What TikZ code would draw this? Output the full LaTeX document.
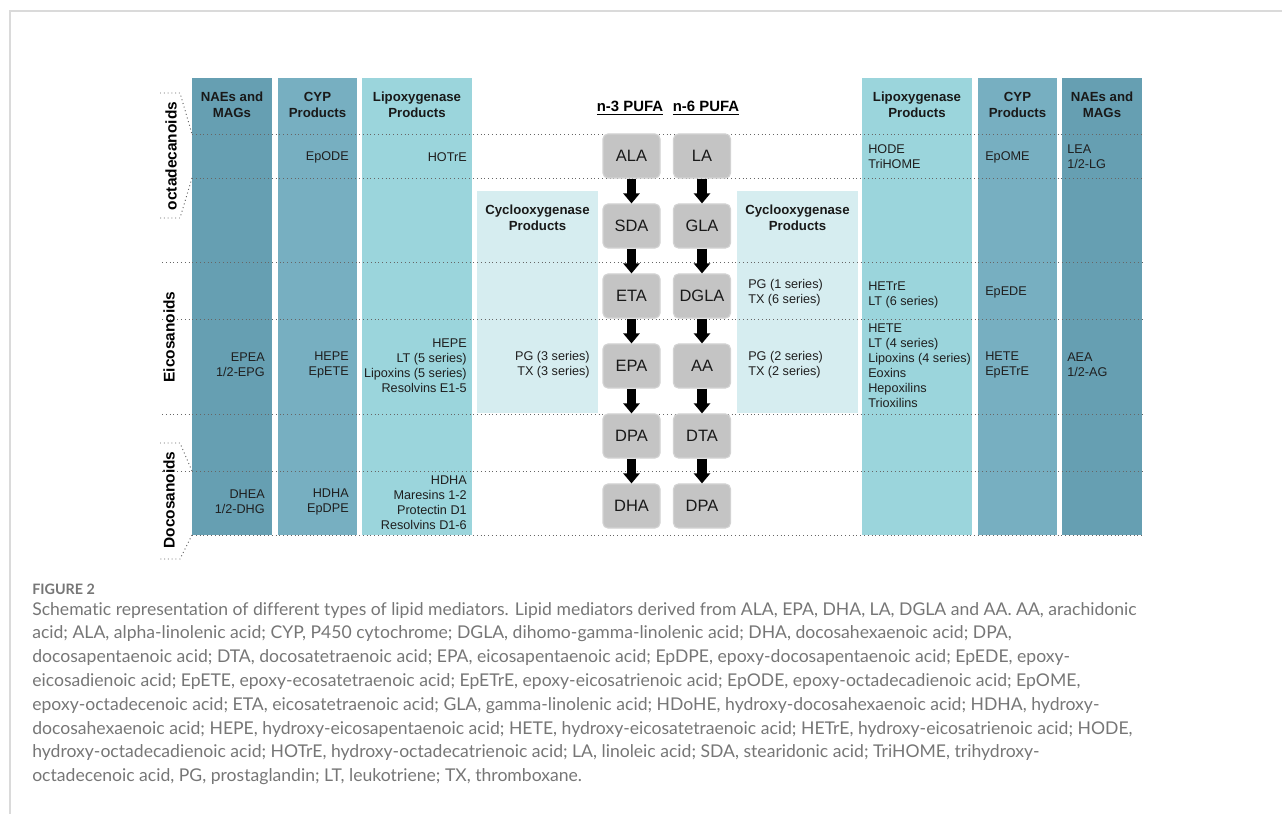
\documentclass[tikz,border=0pt]{standalone}
\usepackage{fontspec}
\setmainfont{Liberation Sans}
\newfontfamily\capfont[Ligatures=NoCommon]{Lato}
\usetikzlibrary{arrows.meta}

\definecolor{naecol}{HTML}{669FB2}
\definecolor{cypcol}{HTML}{77AFC1}
\definecolor{loxcol}{HTML}{9BD5DC}
\definecolor{coxcol}{HTML}{D6EDF0}
\definecolor{facol}{HTML}{C4C4C4}
\definecolor{faedge}{HTML}{D2D2D2}
\definecolor{captext}{HTML}{767676}
\definecolor{framecol}{HTML}{DADADA}

\tikzset{
  col/.style={inner sep=0pt,outer sep=0pt,minimum height=11.425cm},
  head/.style={font=\fontsize{9.4}{11.4}\selectfont\bfseries,align=center,text=black!90},
  item/.style={font=\fontsize{9}{10.7}\selectfont,inner sep=0pt,text=black!88},
  fa/.style={fill=facol,draw=faedge,line width=0.8pt,rounded corners=3.5pt,
    minimum width=1.425cm,minimum height=1.1cm,font=\fontsize{11.7}{14}\selectfont,text=black!90},
  conv/.style={-{Triangle[width=0.4cm,length=0.25cm]},line width=0.24cm},
  sep/.style={dotted,line width=0.7pt,black!60},
  klass/.style={font=\fontsize{11}{13}\selectfont\bfseries,rotate=90}
}

\begin{document}
\begin{tikzpicture}[x=0.025cm,y=-0.025cm]
\useasboundingbox (0,0) rectangle (1282,814);
%% frame
\draw[framecol,line width=1pt] (1282,11) -- (10,11) -- (10,814);

%% columns, left side
\node[col,fill=naecol,minimum width=2cm] (naeL) at (232,306.5) {};
\node[col,fill=cypcol,minimum width=1.975cm] (cypL) at (317.5,306.5) {};
\node[col,fill=loxcol,minimum width=2.75cm] (loxL) at (417,306.5) {};
\node[col,fill=coxcol,minimum width=3.025cm,minimum height=5.55cm] (coxL) at (537.5,302) {};
%% columns, right side
\node[col,fill=coxcol,minimum width=3.025cm,minimum height=5.55cm] (coxR) at (797.5,302) {};
\node[col,fill=loxcol,minimum width=2.75cm] (loxR) at (917,306.5) {};
\node[col,fill=cypcol,minimum width=1.975cm] (cypR) at (1017.5,306.5) {};
\node[col,fill=naecol,minimum width=2cm] (naeR) at (1102,306.5) {};

%% headers
\node[head] at (232,105) {NAEs and\\MAGs};
\node[head] at (317.5,105) {CYP\\Products};
\node[head] at (417,105) {Lipoxygenase\\Products};
\node[head] at (537.5,218) {Cyclooxygenase\\Products};
\node[head] at (797.5,218) {Cyclooxygenase\\Products};
\node[head] at (917,105) {Lipoxygenase\\Products};
\node[head] at (1017.5,105) {CYP\\Products};
\node[head] at (1102,105) {NAEs and\\MAGs};
\node[font=\fontsize{10.6}{13}\selectfont\bfseries] (nthree) at (630,108) {\underline{n-3 PUFA}};
\node[font=\fontsize{10.6}{13}\selectfont\bfseries] (nsix) at (706,108) {\underline{n-6 PUFA}};

%% row separators
\foreach \y in {134,178,535} \draw[sep] (192,\y) -- (1144,\y);
\foreach \y in {262,319,414,471} \draw[sep] (162,\y) -- (1144,\y);

%% classes
\node[klass] (octa) at (171,156) {octadecanoids};
\node[klass] (eico) at (169,337) {Eicosanoids};
\node[klass] (doco) at (169,500) {Docosanoids};
\draw[sep] (160,93) -- (180,93) -- (192,134);
\draw[sep] (192,178) -- (180,218) -- (160,218);
\draw[sep] (160,443) -- (180,443) -- (192,471);
\draw[sep] (192,535) -- (180,559) -- (160,559);

%% fatty acids
\node[fa] (ala) at (631.5,156) {ALA};
\node[fa] (sda) at (631.5,226) {SDA};
\node[fa] (eta) at (631.5,296) {ETA};
\node[fa] (epa) at (631.5,366) {EPA};
\node[fa] (dpa3) at (631.5,436) {DPA};
\node[fa] (dha) at (631.5,506) {DHA};
\node[fa] (la) at (702,156) {LA};
\node[fa] (gla) at (702,226) {GLA};
\node[fa] (dgla) at (702,296) {DGLA};
\node[fa] (aa) at (702,366) {AA};
\node[fa] (dta) at (702,436) {DTA};
\node[fa] (dpa6) at (702,506) {DPA};
\foreach \a/\b in {ala/sda,sda/eta,eta/epa,epa/dpa3,dpa3/dha,la/gla,gla/dgla,dgla/aa,aa/dta,dta/dpa6}
  \draw[conv] (\a) -- (\b);

%% products, left side
\node[item,anchor=east,align=right] at (349,157) {EpODE};
\node[item,anchor=east,align=right] at (467,157) {HOTrE};
\node[item,anchor=east,align=right] at (265,365) {EPEA\\1/2-EPG};
\node[item,anchor=east,align=right] at (349,365) {HEPE\\EpETE};
\node[item,anchor=east,align=right] at (467,366) {HEPE\\LT (5 series)\\Lipoxins (5 series)\\Resolvins E1-5};
\node[item,anchor=east,align=right] at (590,365) {PG (3 series)\\TX (3 series)};
\node[item,anchor=east,align=right] at (265,502) {DHEA\\1/2-DHG};
\node[item,anchor=east,align=right] at (349,502) {HDHA\\EpDPE};
\node[item,anchor=east,align=right] at (467,503) {HDHA\\Maresins 1-2\\Protectin D1\\Resolvins D1-6};

%% products, right side
\node[item,anchor=west,align=left] at (868,157) {HODE\\TriHOME};
\node[item,anchor=west,align=left] at (985,157) {EpOME};
\node[item,anchor=west,align=left] at (1067,157) {LEA\\1/2-LG};
\node[item,anchor=west,align=left] at (748,293) {PG (1 series)\\TX (6 series)};
\node[item,anchor=west,align=left] at (868,295) {HETrE\\LT (6 series)};
\node[item,anchor=west,align=left] at (985,292) {EpEDE};
\node[item,anchor=west,align=left] at (748,365) {PG (2 series)\\TX (2 series)};
\node[item,anchor=west,align=left] at (868,366) {HETE\\LT (4 series)\\Lipoxins (4 series)\\Eoxins\\Hepoxilins\\Trioxilins};
\node[item,anchor=west,align=left] at (985,365) {HETE\\EpETrE};
\node[item,anchor=west,align=left] at (1067,365) {AEA\\1/2-AG};

%% caption
\node[anchor=west,inner sep=0pt,text=captext,font=\capfont\bfseries\fontsize{10.2}{12}\selectfont] (figno) at (32,589) {FIGURE 2};
\node[anchor=north west,inner sep=0pt,align=left,text=captext,font=\capfont\fontsize{12.5}{16.9}\selectfont] (caption) at (32,602) {Schematic representation of different types of lipid mediators. Lipid mediators derived from ALA, EPA, DHA, LA, DGLA and AA. AA, arachidonic\\
acid; ALA, alpha-linolenic acid; CYP, P450 cytochrome; DGLA, dihomo-gamma-linolenic acid; DHA, docosahexaenoic acid; DPA,\\
docosapentaenoic acid; DTA, docosatetraenoic acid; EPA, eicosapentaenoic acid; EpDPE, epoxy-docosapentaenoic acid; EpEDE, epoxy-\\
eicosadienoic acid; EpETE, epoxy-ecosatetraenoic acid; EpETrE, epoxy-eicosatrienoic acid; EpODE, epoxy-octadecadienoic acid; EpOME,\\
epoxy-octadecenoic acid; ETA, eicosatetraenoic acid; GLA, gamma-linolenic acid; HDoHE, hydroxy-docosahexaenoic acid; HDHA, hydroxy-\\
docosahexaenoic acid; HEPE, hydroxy-eicosapentaenoic acid; HETE, hydroxy-eicosatetraenoic acid; HETrE, hydroxy-eicosatrienoic acid; HODE,\\
hydroxy-octadecadienoic acid; HOTrE, hydroxy-octadecatrienoic acid; LA, linoleic acid; SDA, stearidonic acid; TriHOME, trihydroxy-\\
octadecenoic acid, PG, prostaglandin; LT, leukotriene; TX, thromboxane.};
\end{tikzpicture}
\end{document}
